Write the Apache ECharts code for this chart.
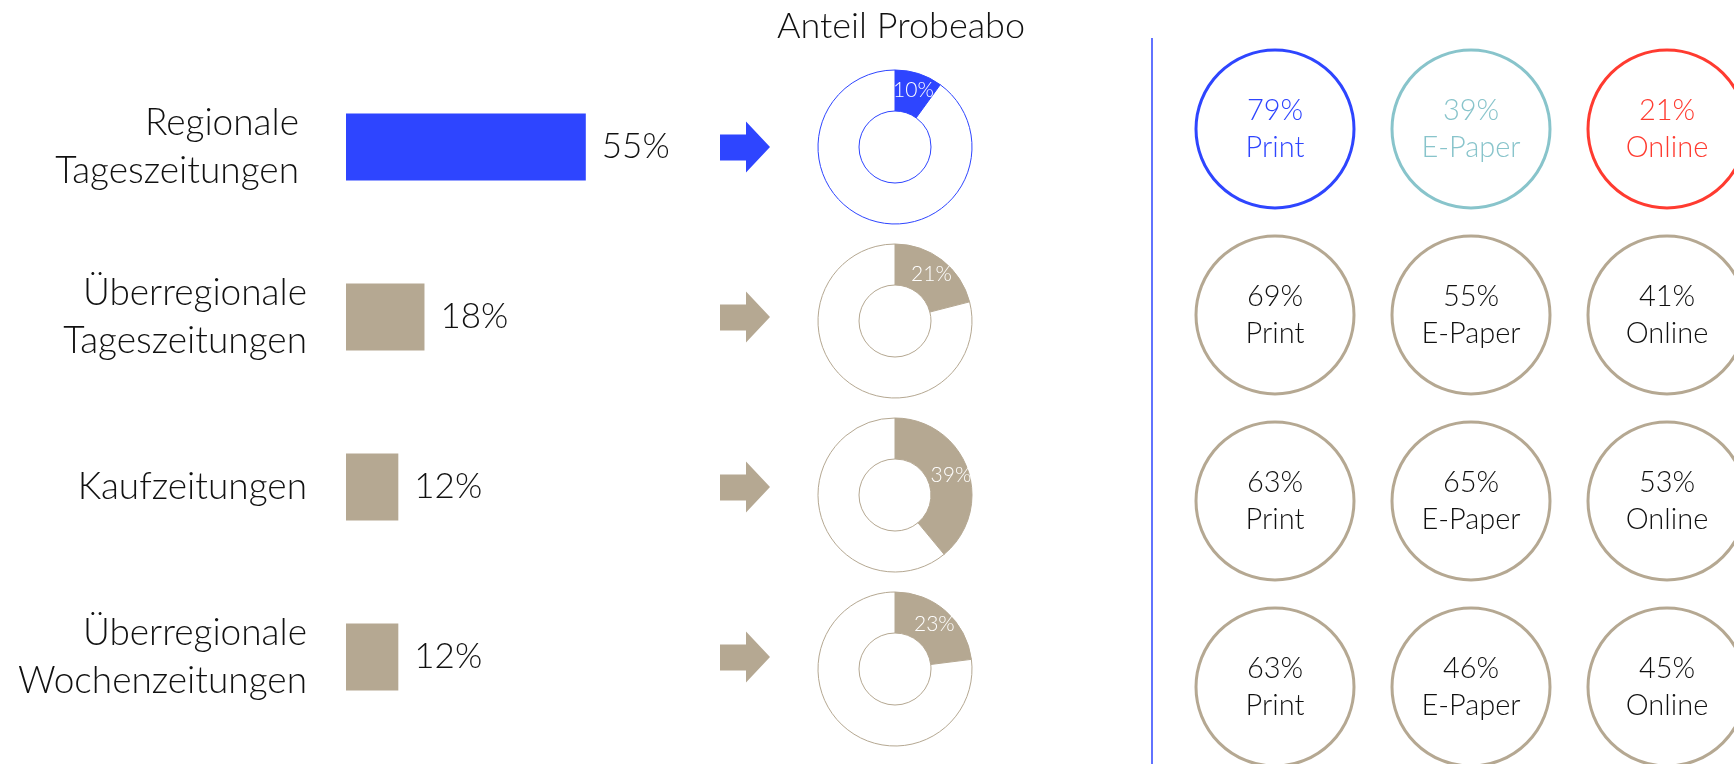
<!DOCTYPE html>
<html>
<head>
<meta charset="utf-8">
<script src="https://cdn.jsdelivr.net/npm/echarts@6/dist/echarts.min.js"></script>
<style>
html,body{margin:0;padding:0;background:#fff;}
#chart{width:1734px;height:764px;}
</style>
</head>
<body>
<div id="chart"></div>
<script>
// ---- Data ----
const categories = ['Regionale\nTageszeitungen', 'Überregionale\nTageszeitungen', 'Kaufzeitungen', 'Überregionale\nWochenzeitungen'];
const shares = [55, 18, 12, 12];
const probeabo = [10, 21, 39, 23];
const channels = ['Print', 'E-Paper', 'Online'];
const printValues = [79, 69, 63, 63];
const epaperValues = [39, 55, 65, 46];
const onlineValues = [21, 41, 53, 45];
const titleText = 'Anteil Probeabo';

// ---- Styles ----
const FONT = 'Lato';
const BLUE = '#2E45FF';
const TAN = '#B5A892';
const TEAL = '#88C4CB';
const RED = '#FF3B30';
const TXT = '#111111';
const rowColor = i => (i === 0 ? BLUE : TAN);
const circleColors = [BLUE, TEAL, RED];

const chart = echarts.init(document.getElementById('chart'), null, {renderer: 'canvas'});

const donutCentersY = [147, 321, 495, 669];
const pieSeries = probeabo.map((v, i) => ({
  type: 'pie',
  center: [895, donutCentersY[i]],
  radius: [36, 77],
  startAngle: 90,
  clockwise: true,
  silent: true,
  labelLine: {show: false},
  data: [
    {value: v, itemStyle: {color: rowColor(i), borderColor: rowColor(i), borderWidth: 1},
     label: {show: true, position: 'inside', formatter: '{c}%', color: '#fff', fontFamily: FONT, fontWeight: 300, fontSize: 21}},
    {value: 100 - v, itemStyle: {color: '#fff', borderColor: rowColor(i), borderWidth: 1}, label: {show: false}}
  ]
}));

const circleData = [];
const allChannelVals = [printValues, epaperValues, onlineValues];
categories.forEach((c, r) => {
  channels.forEach((ch, k) => {
    circleData.push({
      value: [k, r, allChannelVals[k][r]],
      itemStyle: {color: '#fff', borderColor: r === 0 ? circleColors[k] : TAN, borderWidth: 3, opacity: 1},
      label: {color: r === 0 ? circleColors[k] : TXT}
    });
  });
});

// circle grid: column pitch 196px, row pitch 186px; grid clipped at canvas edge
const colPitch = 196, rowPitch = 186;
const cGridLeft = 1177, cGridTop = 36;
const cGridW = 1734 - cGridLeft, cGridH = 764 - cGridTop;

const labelStyle = {fontFamily: FONT, fontWeight: 300, fontSize: 37, lineHeight: 48, color: TXT, align: 'right'};

const option = {
  backgroundColor: '#fff',
  animation: false,
  title: {
    text: titleText, left: 896, top: 3, textAlign: 'center',
    textStyle: {fontFamily: FONT, fontWeight: 300, fontSize: 36, color: TXT}
  },
  graphic: [{
    type: 'line', shape: {x1: 1152, y1: 38, x2: 1152, y2: 764},
    style: {stroke: BLUE, lineWidth: 1.5}
  }],
  grid: [
    {left: 346, top: 62, width: 436, height: 680},
    {left: 720, top: 62, width: 50, height: 680},
    {left: cGridLeft, top: cGridTop, width: cGridW, height: cGridH}
  ],
  xAxis: [
    {gridIndex: 0, type: 'value', min: 0, max: 100, show: false},
    {gridIndex: 1, type: 'category', data: ['arrow'], show: false},
    {gridIndex: 2, type: 'value', min: -0.5, max: cGridW / colPitch - 0.5, show: false}
  ],
  yAxis: [
    {gridIndex: 0, type: 'category', data: categories, inverse: true,
     axisLine: {show: false}, axisTick: {show: false},
     axisLabel: Object.assign({margin: 39,
       formatter: (v, i) => i === 0 ? v.split('\n').map(s => '{a|' + s + '}').join('\n') : v,
       rich: {a: Object.assign({}, labelStyle, {padding: [0, 8, 0, 0]})}
     }, labelStyle)},
    {gridIndex: 1, type: 'category', data: categories, inverse: true, show: false},
    {gridIndex: 2, type: 'value', inverse: true, min: -0.5, max: cGridH / rowPitch - 0.5, show: false}
  ],
  series: [
    {
      type: 'bar', xAxisIndex: 0, yAxisIndex: 0, barWidth: 67, silent: true,
      data: shares.map((v, i) => ({value: v, itemStyle: {color: rowColor(i)}})),
      label: {show: true, position: 'right', distance: 16, formatter: '{c}%',
              fontFamily: FONT, fontWeight: 300, fontSize: 35, color: TXT}
    },
    {
      type: 'scatter', xAxisIndex: 1, yAxisIndex: 1, silent: true,
      symbol: 'path://M0,13 L26,13 L26,0 L50,25.5 L26,51 L26,39 L0,39 Z',
      symbolSize: [50, 51],
      data: categories.map((c, i) => ({value: [0, i], itemStyle: {color: rowColor(i), opacity: 1}}))
    },
    ...pieSeries,
    {
      type: 'scatter', xAxisIndex: 2, yAxisIndex: 2, silent: true,
      symbol: 'circle', symbolSize: 158,
      data: circleData,
      label: {show: true, position: 'inside',
              formatter: p => p.value[2] + '%\n' + channels[p.value[0]],
              fontFamily: FONT, fontWeight: 300, fontSize: 29, lineHeight: 37}
    }
  ]
};
chart.setOption(option);
</script>
</body>
</html>
